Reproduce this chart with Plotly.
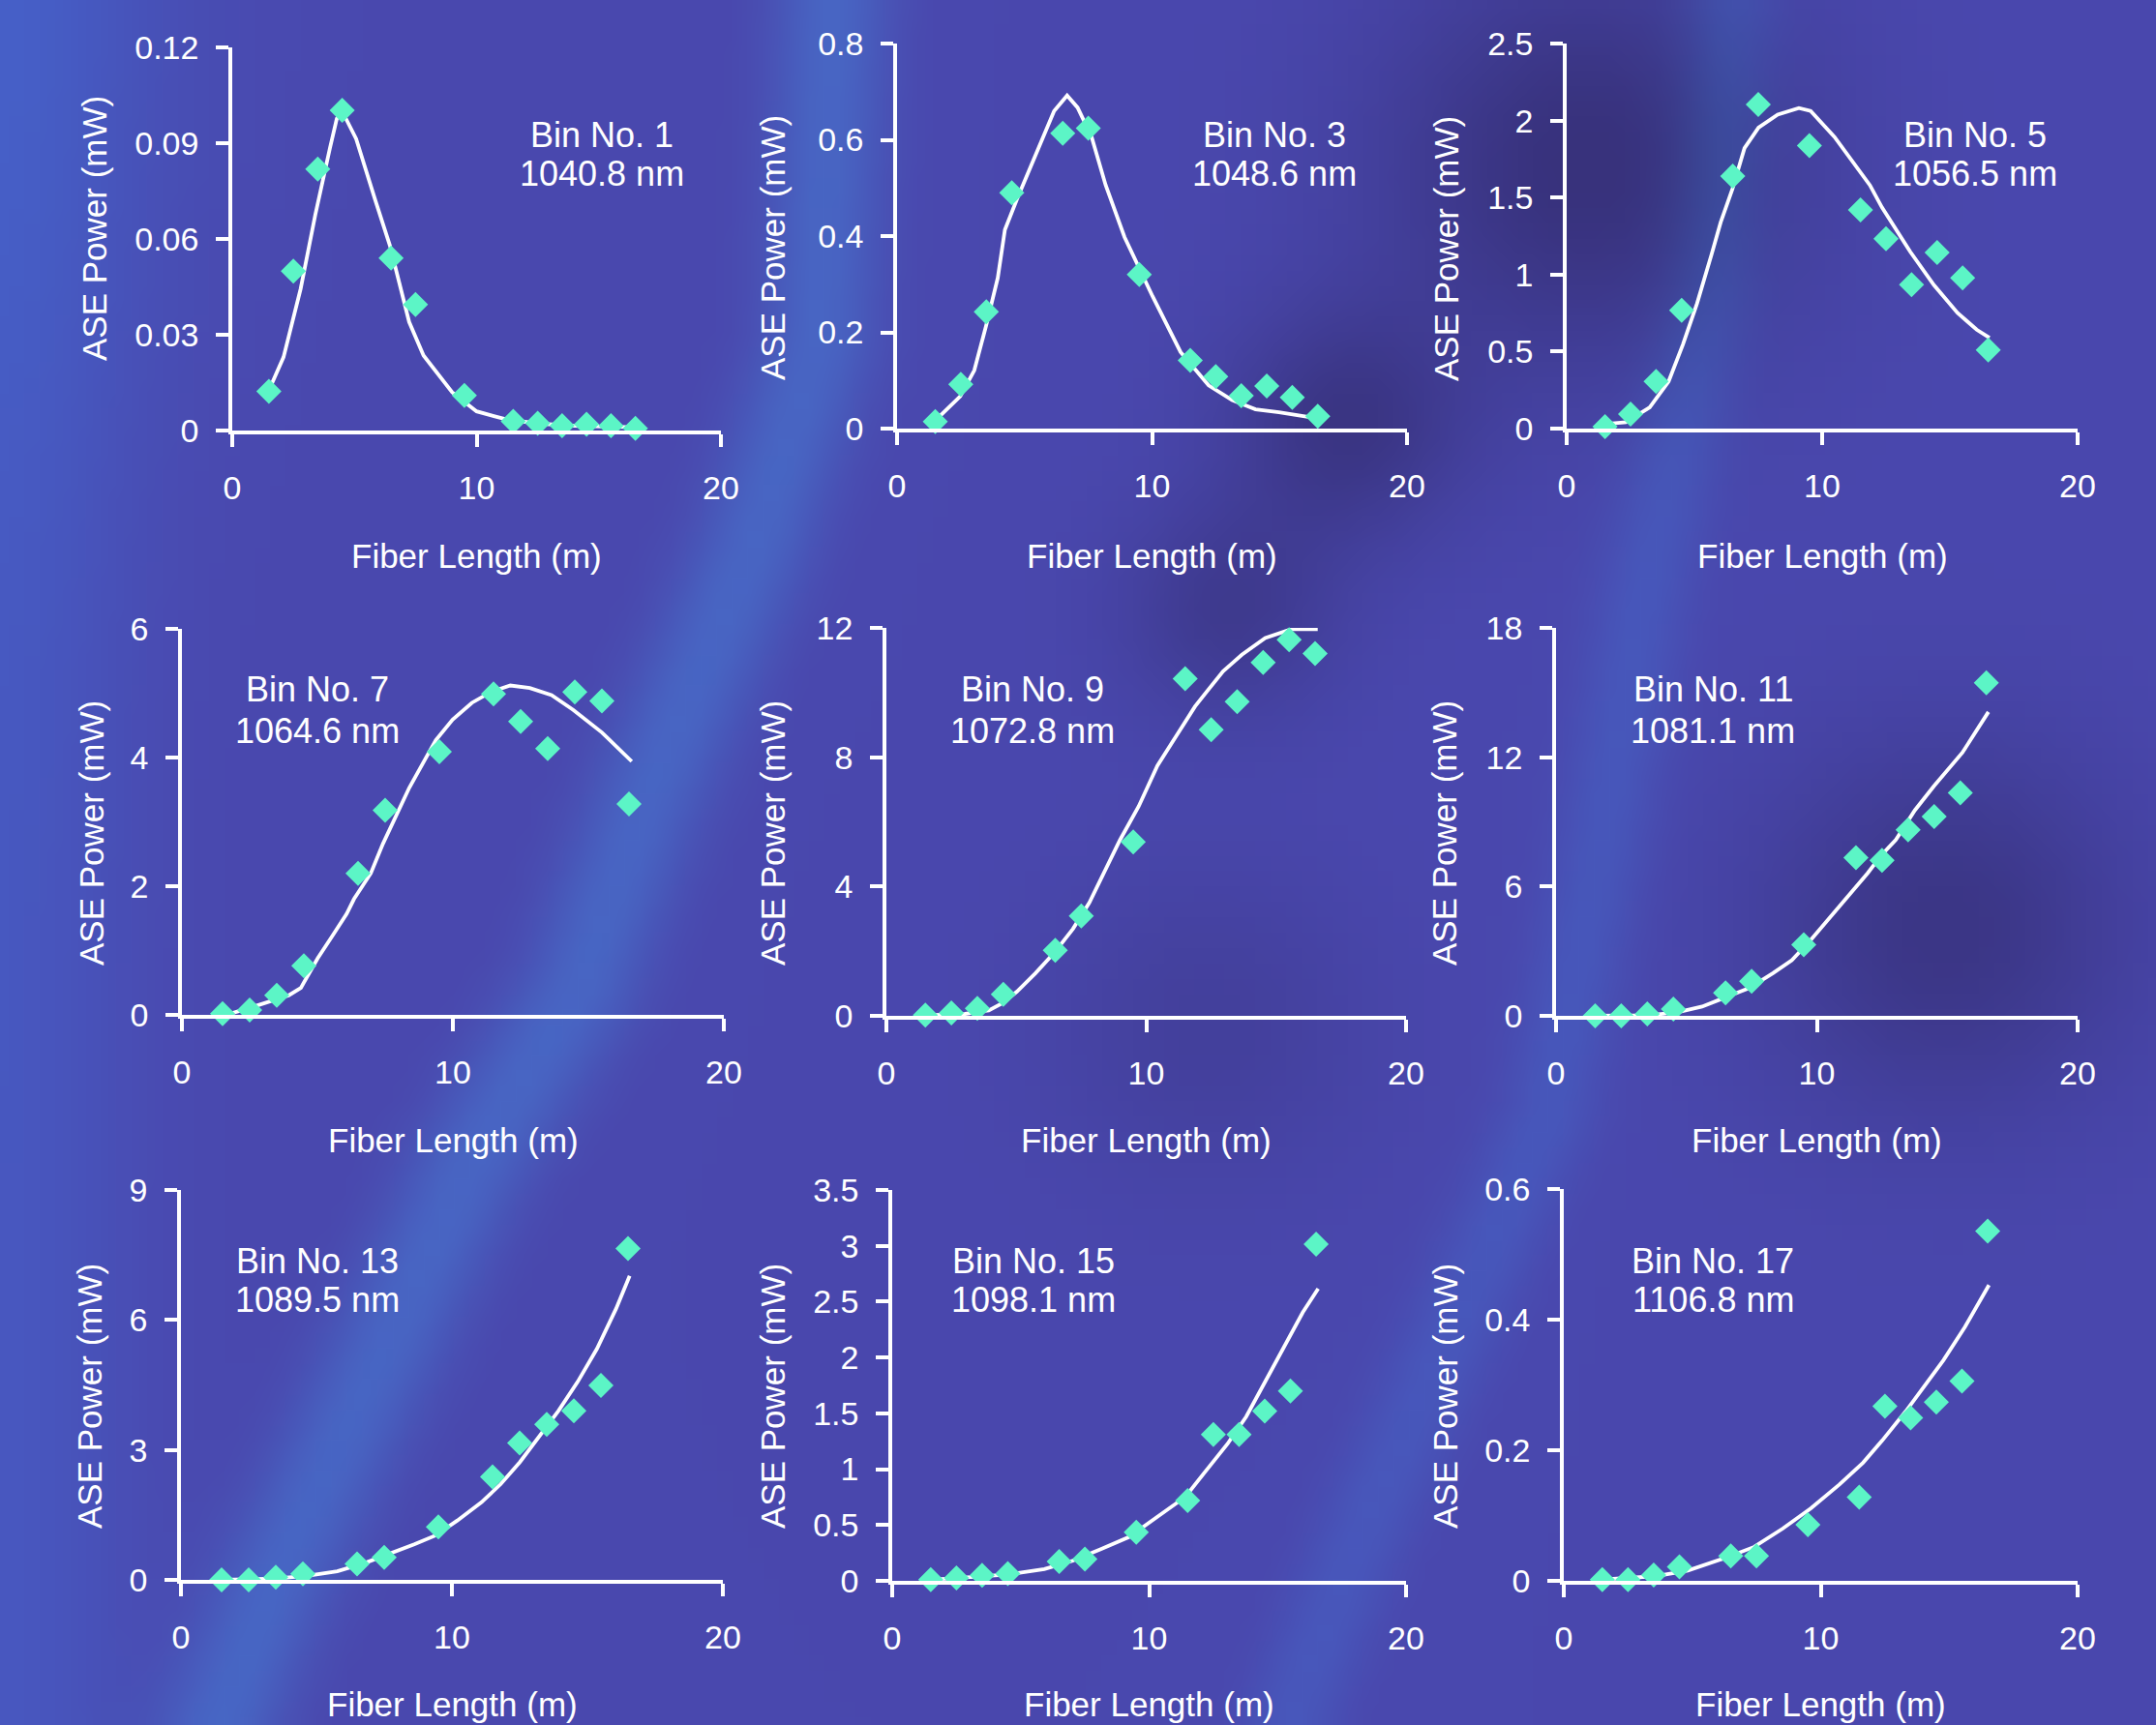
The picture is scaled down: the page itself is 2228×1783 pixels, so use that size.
import base64, struct, zlib
import numpy as np
import plotly.graph_objects as go

W, H = 2228, 1783

# ---------------- data ----------------
FIBER_LENGTH = [1.5, 2.5, 3.5, 4.5, 6.5, 7.5, 9.5, 11.5, 12.5, 13.5, 14.5, 15.5, 16.5]

BIN_LABELS = ["Bin No. 1", "Bin No. 3", "Bin No. 5", "Bin No. 7", "Bin No. 9",
              "Bin No. 11", "Bin No. 13", "Bin No. 15", "Bin No. 17"]
WAVELENGTHS = ["1040.8 nm", "1048.6 nm", "1056.5 nm", "1064.6 nm", "1072.8 nm",
               "1081.1 nm", "1089.5 nm", "1098.1 nm", "1106.8 nm"]

meas_bin1 = [0.0123, 0.0499, 0.0819, 0.1003, 0.054, 0.0395, 0.011, 0.0029, 0.0023, 0.0015, 0.002, 0.0015, 0.0007]
meas_bin3 = [0.0146, 0.092, 0.2425, 0.49, 0.6136, 0.624, 0.32, 0.1416, 0.1078, 0.0685, 0.0885, 0.0647, 0.0254]
meas_bin5 = [0.012, 0.094, 0.306, 0.768, 1.639, 2.105, 1.838, 1.42, 1.232, 0.934, 1.143, 0.979, 0.51]
meas_bin7 = [0.017, 0.075, 0.305, 0.765, 2.2, 3.18, 4.09, 4.99, 4.56, 4.14, 5.02, 4.88, 3.28]
meas_bin9 = [0.02, 0.09, 0.23, 0.665, 2.03, 3.09, 5.38, 10.43, 8.85, 9.72, 10.93, 11.63, 11.21]
meas_bin11 = [0.0, 0.0, 0.086, 0.31, 1.07, 1.6, 3.3, 7.34, 7.22, 8.63, 9.25, 10.35, 15.45]
meas_bin13 = [0.0, 0.0, 0.06, 0.14, 0.37, 0.52, 1.22, 2.38, 3.16, 3.59, 3.9, 4.49, 7.65]
meas_bin15 = [0.01, 0.026, 0.049, 0.065, 0.173, 0.196, 0.435, 0.719, 1.311, 1.311, 1.52, 1.7, 3.015]
meas_bin17 = [0.0017, 0.0017, 0.009, 0.0213, 0.038, 0.038, 0.0858, 0.128, 0.2675, 0.2495, 0.2736, 0.306, 0.5355]

sim_x_bin1 = [1.6, 2.1, 2.8, 3.4, 4.0, 4.28, 4.5, 5.07, 5.86, 6.45, 7.24, 7.83, 9.0, 10.0, 11.2, 12.5, 14.0, 15.5, 16.5]
sim_y_bin1 = [0.0143, 0.023, 0.0444, 0.0676, 0.0885, 0.0977, 0.1, 0.0914, 0.072, 0.058, 0.034, 0.0235, 0.012, 0.006, 0.0035, 0.0022, 0.0015, 0.0011, 0.001]
sim_x_bin3 = [1.56, 2.48, 3.03, 3.49, 3.95, 4.23, 4.69, 5.42, 6.16, 6.67, 7.08, 7.63, 8.18, 8.92, 10.02, 11.12, 12.22, 13.14, 14.06, 14.98, 16.53]
sim_y_bin3 = [0.02, 0.067, 0.121, 0.213, 0.313, 0.413, 0.475, 0.567, 0.66, 0.692, 0.667, 0.606, 0.506, 0.398, 0.275, 0.159, 0.09, 0.059, 0.04, 0.034, 0.021]
sim_x_bin5 = [1.48, 2.32, 3.25, 3.99, 4.55, 5.1, 5.66, 6.03, 6.49, 6.96, 7.51, 8.26, 9.09, 9.55, 10.48, 11.22, 11.87, 12.34, 13.45, 14.38, 15.3, 16.05, 16.55]
sim_y_bin5 = [0.029, 0.041, 0.137, 0.306, 0.546, 0.811, 1.124, 1.34, 1.557, 1.821, 1.954, 2.038, 2.081, 2.062, 1.894, 1.725, 1.58, 1.436, 1.148, 0.931, 0.751, 0.642, 0.59]
sim_x_bin7 = [1.5, 1.81, 2.88, 3.95, 4.39, 5.01, 5.55, 6.08, 6.35, 6.97, 7.42, 7.86, 8.39, 8.92, 9.37, 9.99, 10.7, 11.41, 12.12, 12.84, 13.64, 14.44, 15.5, 16.6]
sim_y_bin7 = [0.017, 0.02, 0.16, 0.305, 0.42, 0.88, 1.225, 1.57, 1.8, 2.2, 2.66, 3.07, 3.53, 3.93, 4.27, 4.59, 4.85, 5.02, 5.12, 5.08, 4.97, 4.74, 4.39, 3.94]
sim_x_bin9 = [1.59, 3.03, 3.94, 4.48, 5.02, 5.74, 6.46, 7.18, 7.81, 8.45, 8.99, 9.71, 10.43, 11.15, 11.88, 12.33, 12.96, 13.68, 14.58, 15.58, 16.6]
sim_y_bin9 = [0.02, 0.06, 0.17, 0.4, 0.745, 1.32, 1.95, 2.69, 3.5, 4.53, 5.44, 6.48, 7.74, 8.65, 9.57, 10.03, 10.66, 11.17, 11.69, 11.96, 11.96]
sim_x_bin11 = [1.51, 3.6, 4.69, 5.6, 6.5, 7.41, 8.32, 9.04, 9.77, 10.49, 11.22, 11.95, 12.49, 13.03, 13.76, 14.49, 15.58, 16.58]
sim_y_bin11 = [0.0, 0.03, 0.17, 0.43, 0.86, 1.29, 1.98, 2.58, 3.52, 4.56, 5.59, 6.62, 7.48, 8.17, 9.54, 10.66, 12.21, 14.1]
sim_x_bin13 = [1.5, 3.5, 4.7, 5.77, 6.83, 7.9, 8.61, 9.41, 10.2, 11.09, 11.8, 12.51, 13.22, 13.93, 14.64, 15.35, 16.06, 16.56]
sim_y_bin13 = [0.0, 0.03, 0.1, 0.2, 0.4, 0.65, 0.82, 1.03, 1.37, 1.79, 2.21, 2.72, 3.31, 3.9, 4.57, 5.33, 6.26, 7.02]
sim_x_bin15 = [1.5, 4.46, 5.92, 7.02, 8.12, 9.21, 10.31, 11.41, 12.14, 13.05, 13.78, 14.52, 15.43, 15.98, 16.58]
sim_y_bin15 = [0.01, 0.056, 0.105, 0.18, 0.284, 0.392, 0.572, 0.752, 0.965, 1.226, 1.471, 1.782, 2.175, 2.404, 2.616]
sim_x_bin17 = [1.47, 3.54, 4.83, 6.3, 7.41, 8.52, 9.62, 10.73, 11.65, 12.39, 13.31, 14.05, 14.78, 15.61, 16.55]
sim_y_bin17 = [0.002, 0.007, 0.0157, 0.0353, 0.052, 0.08, 0.111, 0.1475, 0.181, 0.2147, 0.2596, 0.2989, 0.338, 0.3885, 0.453]

Y_MAX = [0.12, 0.8, 2.5, 6, 12, 18, 9, 3.5, 0.6]
Y_TICKVALS = [
    [0, 0.03, 0.06, 0.09, 0.12],
    [0, 0.2, 0.4, 0.6, 0.8],
    [0, 0.5, 1, 1.5, 2, 2.5],
    [0, 2, 4, 6],
    [0, 4, 8, 12],
    [0, 6, 12, 18],
    [0, 3, 6, 9],
    [0, 0.5, 1, 1.5, 2, 2.5, 3, 3.5],
    [0, 0.2, 0.4, 0.6],
]
Y_TICKTEXT = [
    ["0", "0.03", "0.06", "0.09", "0.12"],
    ["0", "0.2", "0.4", "0.6", "0.8"],
    ["0", "0.5", "1", "1.5", "2", "2.5"],
    ["0", "2", "4", "6"],
    ["0", "4", "8", "12"],
    ["0", "6", "12", "18"],
    ["0", "3", "6", "9"],
    ["0", "0.5", "1", "1.5", "2", "2.5", "3", "3.5"],
    ["0", "0.2", "0.4", "0.6"],
]
X_TICKVALS = [0, 10, 20]
X_TICKTEXT = ["0", "10", "20"]
X_TITLE = "Fiber Length (m)"
Y_TITLE = "ASE Power (mW)"

MEAS = [meas_bin1, meas_bin3, meas_bin5, meas_bin7, meas_bin9, meas_bin11, meas_bin13, meas_bin15, meas_bin17]
SIM_X = [sim_x_bin1, sim_x_bin3, sim_x_bin5, sim_x_bin7, sim_x_bin9, sim_x_bin11, sim_x_bin13, sim_x_bin15, sim_x_bin17]
SIM_Y = [sim_y_bin1, sim_y_bin3, sim_y_bin5, sim_y_bin7, sim_y_bin9, sim_y_bin11, sim_y_bin13, sim_y_bin15, sim_y_bin17]

# ---------------- layout geometry (pixels) ----------------
# plot areas: (x at 0, x at 20, y at 0, y at max)
PANEL_BOX = [
    (240, 745, 445, 49), (927, 1454, 443, 45), (1619, 2147, 443, 45),
    (188, 748, 1049, 650), (916, 1453, 1050, 649), (1608, 2147, 1050, 649),
    (187, 747, 1633, 1230), (922, 1453, 1634, 1230), (1616, 2147, 1634, 1229),
]
YTITLE_POS = [(97, 236), (798, 256), (1494, 257),
              (94, 861), (798, 861), (1492, 861),
              (92, 1443), (798, 1443), (1493, 1443)]
XTITLE_Y = [574, 574, 574, 1178, 1178, 1178, 1761, 1761, 1761]
LABEL_POS = [(622, 140, 180), (1317, 140, 180), (2041, 140, 180),
             (328, 713, 755), (1067, 713, 755), (1770, 713, 755),
             (328, 1303, 1343), (1068, 1303, 1343), (1770, 1303, 1343)]

FONT = "Liberation Sans, Arial, Helvetica, sans-serif"
MARKER_COLOR = "#5CF5C6"

# ---------------- background texture (procedural, smooth) ----------------
BG_W, BG_H = 140, 112
gx = (np.arange(BG_W) + 0.5) * W / BG_W
gy = (np.arange(BG_H) + 0.5) * H / BG_H
GX, GY = np.meshgrid(gx, gy)


def polyline_dist(pts):
    d = np.full(GX.shape, 1e9)
    for (x1, y1), (x2, y2) in zip(pts[:-1], pts[1:]):
        vx, vy = x2 - x1, y2 - y1
        t = ((GX - x1) * vx + (GY - y1) * vy) / (vx * vx + vy * vy)
        t = np.clip(t, 0, 1)
        dd = np.hypot(GX - (x1 + t * vx), GY - (y1 + t * vy))
        d = np.minimum(d, dd)
    return d


bg = np.zeros((BG_H, BG_W, 3)) + np.array([74.0, 72.0, 174.0])
streak_a = [(860, 0), (845, 355), (780, 560), (668, 824), (597, 1023), (483, 1208),
            (384, 1421), (284, 1634), (227, 1783)]
streak_b = [(1790, 0), (1770, 300), (1700, 600), (1650, 900), (1600, 1150),
            (1480, 1420), (1400, 1600), (1330, 1783)]
wa = np.exp(-(polyline_dist(streak_a) / 62.0) ** 2)
wb = np.exp(-(polyline_dist(streak_b) / 50.0) ** 2)
bg += wa[..., None] * np.array([-2.0, 30.0, 22.0])
bg += wb[..., None] * np.array([-2.0, 16.0, 14.0])
for cx, cy, r, amt in [(1640, 170, 210, 1.0), (1390, 440, 120, 0.8), (2010, 960, 190, 0.8),
                       (1270, 630, 110, 0.6), (1250, 1060, 160, 0.35)]:
    wd = np.exp(-((GX - cx) ** 2 + (GY - cy) ** 2) / r ** 2) * amt
    bg += wd[..., None] * np.array([-18.0, -22.0, -50.0])
we = np.exp(-(GX / 140.0) ** 2)
bg += we[..., None] * np.array([-2.0, 16.0, 18.0])
wc = np.exp(-((GX / 260.0) ** 2 + (GY / 500.0) ** 2))
bg += wc[..., None] * np.array([-2.0, 8.0, 8.0])
bg = np.clip(bg, 0, 255).astype(np.uint8)


def png_data_uri(arr):
    h, w, _ = arr.shape
    raw = b"".join(b"\x00" + arr[i].tobytes() for i in range(h))

    def chunk(tag, data):
        c = struct.pack(">I", len(data)) + tag + data
        return c + struct.pack(">I", zlib.crc32(tag + data) & 0xFFFFFFFF)

    png = (b"\x89PNG\r\n\x1a\n"
           + chunk(b"IHDR", struct.pack(">IIBBBBB", w, h, 8, 2, 0, 0, 0))
           + chunk(b"IDAT", zlib.compress(raw, 9))
           + chunk(b"IEND", b""))
    return "data:image/png;base64," + base64.b64encode(png).decode()


# ---------------- figure ----------------
fig = go.Figure()
layout = dict(
    template="none",
    width=W, height=H, autosize=False,
    margin=dict(l=0, r=0, t=0, b=0, pad=0, autoexpand=False),
    paper_bgcolor="#4A48AE", plot_bgcolor="rgba(0,0,0,0)",
    showlegend=False,
    font=dict(family=FONT, color="white", size=34),
    images=[dict(source=png_data_uri(bg), xref="paper", yref="paper", x=0, y=1,
                 sizex=1, sizey=1, xanchor="left", yanchor="top",
                 sizing="stretch", layer="below")],
)
annotations = []

for i in range(9):
    n = "" if i == 0 else str(i + 1)
    x0, x20, y0, ytop = PANEL_BOX[i]
    axis_common = dict(showgrid=False, zeroline=False, showline=True, linecolor="white",
                       linewidth=3.5, ticks="outside", ticklen=13, tickwidth=3.5,
                       tickcolor="white", tickfont=dict(family=FONT, size=34, color="white"),
                       fixedrange=True, automargin=False)
    layout["xaxis" + n] = dict(axis_common, domain=[x0 / W, x20 / W], range=[0, 20],
                               tickvals=X_TICKVALS, ticktext=X_TICKTEXT,
                               anchor="y" + n, ticklabelstandoff=13)
    layout["yaxis" + n] = dict(axis_common, domain=[1 - y0 / H, 1 - ytop / H],
                               range=[0, Y_MAX[i]], tickvals=Y_TICKVALS[i],
                               ticktext=Y_TICKTEXT[i], anchor="x" + n, ticklabelstandoff=11)

    fig.add_trace(go.Scatter(x=SIM_X[i], y=SIM_Y[i], mode="lines",
                             line=dict(color="white", width=3.8),
                             xaxis="x" + n, yaxis="y" + n, hoverinfo="skip"))
    fig.add_trace(go.Scatter(x=FIBER_LENGTH, y=MEAS[i], mode="markers",
                             marker=dict(symbol="diamond", size=20, color=MARKER_COLOR,
                                         line=dict(width=0)),
                             cliponaxis=False, xaxis="x" + n, yaxis="y" + n))

    tx, ty = YTITLE_POS[i]
    annotations.append(dict(text=Y_TITLE, x=tx / W, y=1 - ty / H, xref="paper", yref="paper",
                            textangle=-90, showarrow=False, xanchor="center", yanchor="middle",
                            font=dict(family=FONT, size=35, color="white")))
    annotations.append(dict(text=X_TITLE, x=(x0 + x20) / 2 / W, y=1 - XTITLE_Y[i] / H,
                            xref="paper", yref="paper", showarrow=False,
                            xanchor="center", yanchor="middle",
                            font=dict(family=FONT, size=35, color="white")))
    lx, ly1, ly2 = LABEL_POS[i]
    annotations.append(dict(text=BIN_LABELS[i], x=lx / W, y=1 - ly1 / H, xref="paper",
                            yref="paper", showarrow=False, xanchor="center", yanchor="middle",
                            font=dict(family=FONT, size=36, color="white")))
    annotations.append(dict(text=WAVELENGTHS[i], x=lx / W, y=1 - ly2 / H, xref="paper",
                            yref="paper", showarrow=False, xanchor="center", yanchor="middle",
                            font=dict(family=FONT, size=36, color="white")))

layout["annotations"] = annotations
fig.update_layout(**layout)
fig.write_html(
    "out.html",
    config={"displayModeBar": False, "responsive": False},
    post_script=("document.documentElement.style.margin='0';"
                 "document.body.style.margin='0';document.body.style.padding='0';"
                 "document.body.style.overflow='hidden';"),
)
